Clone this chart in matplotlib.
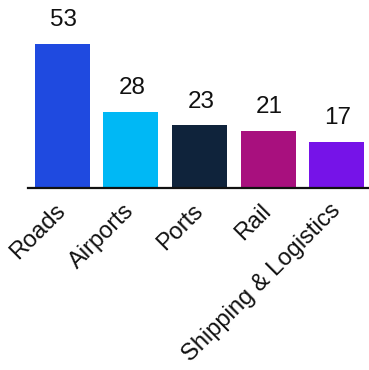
import matplotlib
matplotlib.use("Agg")
import matplotlib.pyplot as plt

categories = ["Roads", "Airports", "Ports", "Rail", "Shipping & Logistics"]
values = [53, 28, 23, 21, 17]
colors = ["#1f4ae0", "#00b8f5", "#0f233b", "#a8107e", "#7613e8"]

plt.rcParams['font.family'] = ['Liberation Sans', 'DejaVu Sans']

fig = plt.figure(figsize=(3.69, 3.70), dpi=100)
W, H = 369, 370
# axes in pixel terms: left 28, right ~371, bottom at y=188 px, top at y=0
ax = fig.add_axes([28 / W, (H - 188) / H, (371 - 28) / W, 188 / H])

x = range(len(categories))
bars = ax.bar(x, values, width=0.8, color=colors)
ax.set_xlim(-0.5, 4.5)
ax.set_ylim(0, 188 / 2.72)

for b, v in zip(bars, values):
    ax.annotate(str(v), (b.get_x() + b.get_width() / 2, v),
                xytext=(1, 9), textcoords="offset points",
                ha="center", va="bottom", fontsize=17.5, color="#111111")

ax.set_xticks(list(x))
ax.set_xticklabels(categories, rotation=45, ha="right", va="center",
                   rotation_mode="anchor", fontsize=17, color="#111111")
ax.tick_params(axis="x", length=0, pad=14)
ax.set_yticks([])
for s in ["top", "right", "left"]:
    ax.spines[s].set_visible(False)
ax.spines["bottom"].set_linewidth(1.6)
ax.spines["bottom"].set_color("#111111")

fig.savefig("out.png", dpi=100)
